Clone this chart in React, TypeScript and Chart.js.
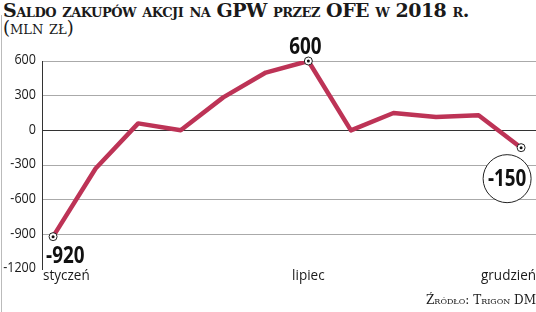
import React, { useEffect, useRef } from "react";
import { Chart, registerables } from "chart.js";

Chart.register(...registerables);

const months = ["styczeń", "luty", "marzec", "kwiecień", "maj", "czerwiec", "lipiec", "sierpień", "wrzesień", "październik", "listopad", "grudzień"];
const saldo = [-920, -330, 60, 0, 285, 500, 600, 0, 150, 115, 130, -150];
const yTicks = [-1200, -900, -600, -300, 0, 300, 600];
const shownLabels = [0, 6, 11];
const markedPoints = [0, 6, 11];

const SANS = '"Open Sans", Roboto, sans-serif';
const SERIF = '"DejaVu Serif", serif';
const LINE = "#bd3356";

function cText(ctx: any, text: string, x: number, y: number, align: string, sx: number) {
  ctx.save();
  ctx.translate(x, y);
  ctx.scale(sx, 1);
  ctx.textAlign = align;
  ctx.fillText(text, 0, 0);
  ctx.restore();
}

const overlay = {
  id: "overlay",
  afterDatasetsDraw(chart: any) {
    const ctx = chart.ctx;
    const xs = chart.scales.x;
    const ys = chart.scales.y;
    const ca = chart.chartArea;
    ctx.save();
    ctx.fillStyle = "#1a1a1a";
    // y tick labels
    ctx.font = `15px ${SANS}`;
    ctx.textBaseline = "middle";
    yTicks.forEach((v) => {
      cText(ctx, String(v), ca.left - 6, ys.getPixelForValue(v) - 1, "right", 0.84);
    });
    // x labels
    ctx.font = `15px ${SANS}`;
    ctx.textBaseline = "top";
    shownLabels.forEach((i, k) => {
      const x = xs.getPixelForValue(i);
      const top = ca.bottom - 1;
      if (k === 0) cText(ctx, months[i], ca.left + 1, top, "left", 0.9);
      else if (k === shownLabels.length - 1) cText(ctx, months[i], ca.right, top, "right", 0.9);
      else cText(ctx, months[i], x, top, "center", 0.9);
    });
    // circle callout for last value
    const lx = xs.getPixelForValue(11);
    const ly = ys.getPixelForValue(saldo[11]);
    const cx = lx - 14;
    const cy = ly + 31;
    ctx.beginPath();
    ctx.arc(cx, cy, 24, 0, Math.PI * 2);
    ctx.fillStyle = "#fff";
    ctx.fill();
    ctx.lineWidth = 1;
    ctx.strokeStyle = "#222";
    ctx.stroke();
    // markers
    markedPoints.forEach((i) => {
      const x = xs.getPixelForValue(i);
      const y = ys.getPixelForValue(saldo[i]);
      ctx.beginPath();
      ctx.arc(x, y, 4, 0, Math.PI * 2);
      ctx.fillStyle = "#fff";
      ctx.fill();
      ctx.lineWidth = 1;
      ctx.strokeStyle = "#222";
      ctx.stroke();
      ctx.beginPath();
      ctx.arc(x, y, 1.5, 0, Math.PI * 2);
      ctx.fillStyle = "#111";
      ctx.fill();
    });
    // value annotations
    ctx.fillStyle = "#111";
    ctx.font = `bold 23px ${SANS}`;
    ctx.textBaseline = "alphabetic";
    const x0 = xs.getPixelForValue(0);
    const y0 = ys.getPixelForValue(saldo[0]);
    cText(ctx, String(saldo[0]), x0 - 7, y0 + 26, "left", 0.82);
    const x6 = xs.getPixelForValue(6);
    const y6 = ys.getPixelForValue(saldo[6]);
    cText(ctx, String(saldo[6]), x6 - 3, y6 - 7, "center", 0.82);
    ctx.textBaseline = "middle";
    cText(ctx, String(saldo[11]), cx, cy + 1, "center", 0.82);
    ctx.restore();
  },
};

export default function App() {
  const ref = useRef<HTMLCanvasElement | null>(null);
  useEffect(() => {
    if (!ref.current) return;
    const chart = new Chart(ref.current, {
      type: "line",
      data: {
        datasets: [
          {
            data: saldo.map((v, i) => ({ x: i, y: v })),
            borderColor: LINE,
            borderWidth: 4.5,
            pointRadius: 0,
            tension: 0,
            fill: false,
            borderJoinStyle: "round",
            borderCapStyle: "round",
          },
        ],
      },
      options: {
        animation: false,
        responsive: false,
        maintainAspectRatio: false,
        layout: { padding: { top: 61, bottom: 43, left: 0, right: 0 } },
        plugins: { legend: { display: false }, tooltip: { enabled: false }, title: { display: false } },
        scales: {
          x: { type: "linear", min: -0.26, max: 11.35, display: false },
          y: {
            min: -1200,
            max: 600,
            afterBuildTicks: (axis: any) => {
              axis.ticks = yTicks.map((v) => ({ value: v }));
            },
            afterFit: (axis: any) => {
              axis.width = 42;
            },
            border: { display: true, color: "#333", width: 1 },
            grid: {
              drawTicks: false,
              lineWidth: 1,
              color: (c: any) => (c.tick && c.tick.value === 0 ? "#333" : c.tick && c.tick.value === -1200 ? "rgba(0,0,0,0)" : "#aaa"),
            },
            ticks: { display: false },
          },
        },
      },
      plugins: [overlay],
    });
    return () => chart.destroy();
  }, []);

  return (
    <div style={{ position: "fixed", left: 0, top: 0, width: 536, height: 312, background: "#fff", overflow: "hidden" }}>
      <div style={{ position: "absolute", left: 1, top: 15, width: 1, height: 297, background: "#bbb" }} />
      <div
        style={{
          position: "absolute",
          left: 3,
          top: -1,
          fontFamily: SERIF,
          fontWeight: "bold",
          fontVariant: "small-caps",
          fontSize: 19,
          letterSpacing: "-0.5px",
          color: "#1a1a1a",
          whiteSpace: "nowrap",
          lineHeight: "22px",
        }}
      >
        Saldo zakupów akcji na GPW przez OFE w 2018 r.
      </div>
      <div
        style={{
          position: "absolute",
          left: 3,
          top: 17,
          fontFamily: SERIF,
          fontVariant: "small-caps",
          fontSize: 18,
          color: "#1a1a1a",
          whiteSpace: "nowrap",
          lineHeight: "22px",
        }}
      >
        (mln zł)
      </div>
      <canvas ref={ref} width={536} height={312} style={{ position: "absolute", left: 0, top: 0, width: 536, height: 312 }} />
      <div
        style={{
          position: "absolute",
          right: 0,
          top: 292,
          fontFamily: SERIF,
          fontVariant: "small-caps",
          fontSize: 12,
          color: "#1a1a1a",
          whiteSpace: "nowrap",
          lineHeight: "16px",
        }}
      >
        Źródło: Trigon DM
      </div>
    </div>
  );
}
